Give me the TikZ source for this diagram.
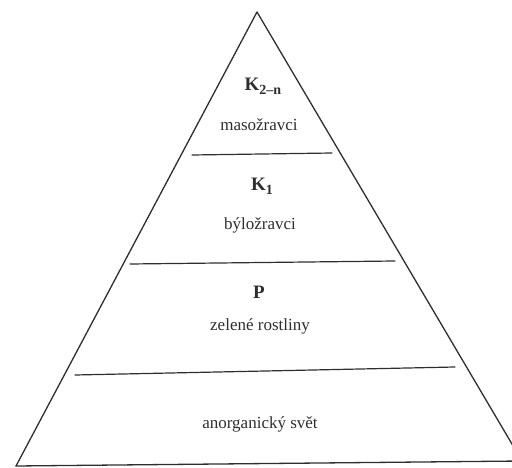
\documentclass[tikz,border=0pt]{standalone}
\usepackage{fontspec}
\setmainfont{Liberation Serif}
\usetikzlibrary{calc, positioning}
\definecolor{ink}{HTML}{2E2E2E}
\tikzset{
  every picture/.style={line cap=round, line join=round},
  edge/.style={ink, line width=1.3pt},
  level/.style={ink, line width=1.2pt},
  % trophic symbol and its name
  sym/.style={text=ink, inner sep=0pt, font=\fontsize{19}{22}\selectfont\bfseries},
  lbl/.style={text=ink, inner sep=0pt, font=\fontsize{17}{20}\selectfont},
}
\newcommand{\lvsub}[1]{\raisebox{-0.45ex}{\fontsize{14}{16}\selectfont\bfseries #1}}

\begin{document}
\begin{tikzpicture}[x=1pt, y=-1pt]
  \useasboundingbox (0,0) rectangle (512,468);
  % ---------------- outline of the pyramid
  \coordinate (apex) at (257,12);
  \coordinate (bl) at (16,466);
  \coordinate (br) at (522,461);
  \draw[edge] (bl) -- (apex) -- (br);
  \draw[edge] (bl) -- (br);
  % ---------------- dividing lines
  \draw[level] (192,155) -- (332,153);
  \draw[level] (130,264) -- (395,261);
  \draw[level] (75,375) -- (455,367);
  % ---------------- levels, top down
  \node[sym] (k2) at (263,86) {K\lvsub{2--n}};
  \node[lbl] (maso) at (259,125) {masožravci};
  \node[sym] (k1) at (262,186) {K\lvsub{1}};
  \node[lbl] (bylo) at (260,225) {býložravci};
  \node[sym] (p) at (259,292) {P};
  \node[lbl] (zel) at (260,326) {zelené rostliny};
  \node[lbl] (anorg) at (260,424) {anorganický svět};
\end{tikzpicture}
\end{document}
